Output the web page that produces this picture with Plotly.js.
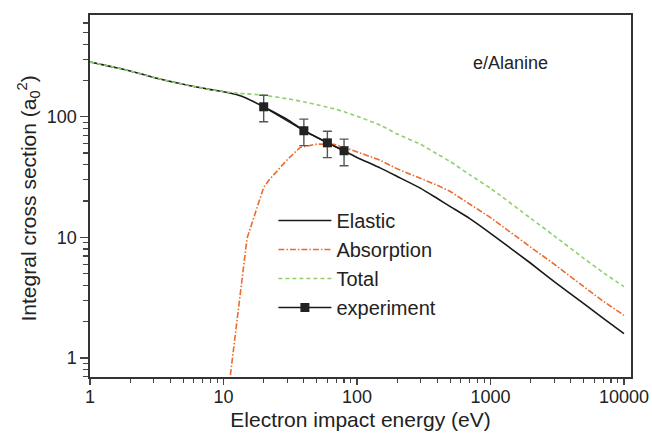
<!DOCTYPE html>
<html>
<head>
<meta charset="utf-8">
<script src="https://cdn.plot.ly/plotly-3.0.1.min.js"></script>
<style>html,body{margin:0;padding:0;background:#fff;}#chart{width:652px;height:433px;}</style>
</head>
<body>
<div id="chart"></div>
<script>
// Elastic cross section (a0^2)
var elasticE = [1, 1.5, 2, 3, 5, 8, 10, 13, 15, 20, 30, 40, 60, 80, 100, 150, 200, 300, 400, 500, 700, 1000, 2000, 3000, 5000, 7000, 10000];
var elasticS = [285, 258, 240, 212, 186, 168, 161, 151, 142, 121, 95, 77, 61, 52, 46, 37.5, 32, 25.5, 21, 18, 14.3, 10.8, 6.1, 4.3, 2.82, 2.13, 1.59];

// Absorption cross section
var absorptionE = [11, 13, 15, 20, 22, 30, 37.5, 50, 67, 80, 120, 150, 200, 300, 400, 500, 700, 1000, 2000, 3000, 5000, 7000, 10000];
var absorptionS = [0.58, 2.7, 9.8, 26, 30, 44, 55.7, 59.3, 59, 56, 48, 43.5, 37, 31, 27, 24, 18.8, 14.6, 8.3, 6.0, 3.9, 2.95, 2.26];

// Total cross section
var totalE = [1, 1.5, 2, 3, 5, 8, 10, 13, 15, 20, 30, 40, 50, 60, 70, 80, 100, 150, 200, 300, 400, 500, 700, 1000, 2000, 3000, 5000, 7000, 10000];
var totalS = [285, 258, 240, 212, 186, 168, 162, 156, 155, 151, 141, 133, 126, 120, 115, 110, 101, 85, 72, 59, 49, 42.5, 33, 25.5, 14.4, 10.3, 6.7, 5.1, 3.9];

// Experiment
var expE = [20, 40, 60, 80];
var expS = [121, 76.6, 60.8, 52.3];
var expErr = [30, 19, 15, 13];

// Axis ticks
var xTickVals = [1, 10, 100, 1000, 10000];
var xTickText = ['1', '10', '100', '1000', '10000'];
var yTickVals = [1, 10, 100];
var yTickText = ['1', '10', '100'];

var FONT = 'Liberation Sans, Arial, Helvetica, sans-serif';

var traces = [
  {x: elasticE, y: elasticS, name: 'Elastic', mode: 'lines', type: 'scatter',
   line: {color: '#1a1a1a', width: 1.6, shape: 'spline', smoothing: 0.6}},
  {x: absorptionE, y: absorptionS, name: 'Absorption', mode: 'lines', type: 'scatter',
   line: {color: '#ee6a2c', width: 1.6, dash: '6px,2px,1.5px,2px'}},
  {x: totalE, y: totalS, name: 'Total', mode: 'lines', type: 'scatter',
   line: {color: '#8fd06c', width: 1.6, dash: '4px,3px', shape: 'spline', smoothing: 0.6}},
  {x: expE, y: expS, name: 'experiment', mode: 'lines+markers', type: 'scatter',
   line: {color: '#1a1a1a', width: 1.4},
   marker: {symbol: 'square', size: 9, color: '#222'},
   error_y: {type: 'data', array: expErr, visible: true, color: '#555', thickness: 1.4, width: 4.5}}
];

var layout = {
  width: 652, height: 433,
  margin: {l: 90, r: 21, t: 15, b: 56},
  paper_bgcolor: '#fff', plot_bgcolor: '#fff',
  font: {family: FONT, size: 18, color: '#222'},
  showlegend: true,
  legend: {x: 0.339, y: 0.486, xanchor: 'left', yanchor: 'top',
           bgcolor: 'rgba(0,0,0,0)', font: {family: FONT, size: 20, color: '#222'},
           itemwidth: 53},
  xaxis: {type: 'log', range: [0, 4.0525], autorange: false,
          tickvals: xTickVals, ticktext: xTickText,
          ticks: 'outside', ticklen: 6, tickwidth: 1.4, tickcolor: '#444',
          ticklabelstandoff: -3,
          showline: true, linecolor: '#333', linewidth: 1.6, mirror: true,
          showgrid: false, zeroline: false,
          tickfont: {family: FONT, size: 18, color: '#222'},
          minor: {ticks: 'outside', ticklen: 4, tickwidth: 1.2, tickcolor: '#444', dtick: 'D1', showgrid: false},
          title: {text: 'Electron impact energy (eV)', font: {family: FONT, size: 21, color: '#222'}, standoff: 6}},
  yaxis: {type: 'log', range: [-0.158, 2.844], autorange: false,
          tickvals: yTickVals, ticktext: yTickText,
          ticks: 'outside', ticklen: 8, tickwidth: 1.4, tickcolor: '#444',
          showline: true, linecolor: '#333', linewidth: 1.6, mirror: true,
          showgrid: false, zeroline: false,
          tickfont: {family: FONT, size: 18, color: '#222'},
          minor: {ticks: 'outside', ticklen: 5, tickwidth: 1.2, tickcolor: '#444', dtick: 'D1', showgrid: false}},
  annotations: [
    {text: 'e/Alanine', xref: 'paper', yref: 'paper', x: 0.777, y: 0.868,
     xanchor: 'center', yanchor: 'middle', showarrow: false,
     font: {family: FONT, size: 18, color: '#222'}},
    {text: 'Integral cross section (a<sub>0</sub><sup>2</sup>)', xref: 'paper', yref: 'paper',
     x: -0.114, y: 0.494, xanchor: 'center', yanchor: 'middle', textangle: -90, showarrow: false,
     font: {family: FONT, size: 21, color: '#222'}}
  ]
};

Plotly.newPlot('chart', traces, layout, {displayModeBar: false, staticPlot: true});
</script>
</body>
</html>
